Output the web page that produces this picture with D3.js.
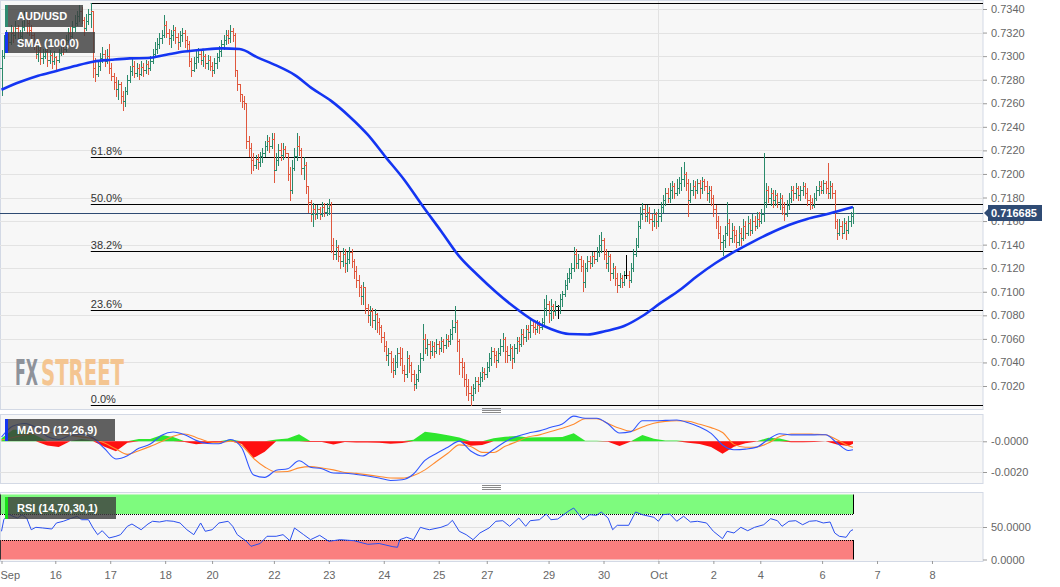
<!DOCTYPE html>
<html><head><meta charset="utf-8">
<script src="https://cdn.jsdelivr.net/npm/d3@7"></script>
<style>body{margin:0;background:#fff;}svg{display:block;font-family:"Liberation Sans",Arial,sans-serif;}</style>
</head><body><svg id="chart" width="1060" height="587"></svg>
<script>
// ---------- DATA (hourly AUD/USD bars) ----------
const firstOpen = .7290;
const closes = [
.7300,.7310,.7316,.7312,.7320,.7318,.7324,.7315,.7317,.7325,
.7332,.7328,.7322,.7318,.7310,.7302,.7305,.7298,.7300,.7304,
.7297,.7301,.7296,.7299,.7297,.7303,.7310,.7306,.7314,.7320,
.7317,.7325,.7328,.7334,.7338,.7331,.7324,.7330,.7336,.7338,
.7290,.7285,.7292,.7298,.7302,.7296,.7300,.7290,.7283,.7278,
.7272,.7276,.7266,.7262,.7270,.7280,.7287,.7292,.7286,.7290,
.7285,.7291,.7288,.7293,.7290,.7296,.7302,.7306,.7310,.7315,
.7318,.7326,.7320,.7315,.7318,.7322,.7316,.7312,.7318,.7320,
.7314,.7310,.7296,.7288,.7294,.7299,.7302,.7297,.7300,.7294,
.7297,.7292,.7288,.7294,.7299,.7304,.7310,.7314,.7318,.7315,
.7321,.7318,.7288,.7276,.7268,.7262,.7260,.7228,.7222,.7212,
.7208,.7213,.7210,.7215,.7218,.7224,.7228,.7224,.7230,.7203,
.7212,.7220,.7216,.7221,.7218,.7200,.7186,.7205,.7215,.7224,
.7220,.7205,.7208,.7190,.7176,.7166,.7170,.7166,.7170,.7166,
.7172,.7168,.7171,.7174,.7140,.7132,.7138,.7130,.7126,.7132,
.7124,.7128,.7134,.7126,.7118,.7110,.7104,.7096,.7104,.7086,
.7080,.7084,.7076,.7081,.7074,.7070,.7062,.7054,.7046,.7048,
.7040,.7034,.7040,.7048,.7044,.7034,.7030,.7044,.7038,.7030,
.7022,.7026,.7034,.7044,.7060,.7052,.7056,.7050,.7054,.7050,
.7056,.7052,.7058,.7055,.7060,.7058,.7064,.7070,.7074,.7058,
.7040,.7036,.7026,.7020,.7014,.7012,.7018,.7024,.7022,.7028,
.7032,.7030,.7036,.7044,.7050,.7046,.7042,.7048,.7054,.7060,
.7050,.7046,.7052,.7044,.7052,.7058,.7056,.7064,.7062,.7068,
.7066,.7072,.7070,.7068,.7072,.7070,.7074,.7086,.7090,.7082,
.7088,.7084,.7088,.7088,.7094,.7098,.7106,.7112,.7116,.7120,
.7132,.7124,.7128,.7122,.7108,.7120,.7126,.7124,.7130,.7128,
.7134,.7140,.7144,.7132,.7124,.7130,.7116,.7120,.7112,.7106,
.7112,.7108,.7114,.7114,.7110,.7120,.7132,.7140,.7156,.7166,
.7170,.7164,.7168,.7162,.7160,.7166,.7160,.7164,.7172,.7178,
.7184,.7180,.7186,.7190,.7184,.7188,.7192,.7196,.7200,.7192,
.7178,.7186,.7190,.7186,.7192,.7188,.7194,.7190,.7184,.7186,
.7180,.7170,.7160,.7150,.7142,.7144,.7150,.7158,.7146,.7152,
.7148,.7142,.7150,.7146,.7156,.7150,.7158,.7152,.7160,.7156,
.7162,.7160,.7166,.7176,.7186,.7180,.7184,.7178,.7182,.7176,
.7180,.7172,.7166,.7174,.7180,.7186,.7184,.7188,.7182,.7186,
.7190,.7184,.7178,.7176,.7174,.7180,.7186,.7190,.7186,.7192,
.7188,.7184,.7190,.7184,.7160,.7150,.7156,.7150,.7158,.7152,
.7160,.7164,.716685];
const highs = [
.7305,.7318,.7322,.7320,.7326,.7325,.7330,.7326,.7322,.7330,
.7338,.7336,.7333,.7326,.7320,.7312,.7310,.7308,.7306,.7309,
.7306,.7305,.7303,.7304,.7300,.7306,.7314,.7313,.7318,.7324,
.7325,.7330,.7335,.7338,.7343,.7342,.7333,.7336,.7340,.7345,
.7338,.7298,.7296,.7303,.7308,.7305,.7306,.7310,.7294,.7286,
.7282,.7280,.7278,.7270,.7274,.7284,.7292,.7298,.7296,.7294,
.7293,.7296,.7294,.7297,.7296,.7300,.7306,.7312,.7315,.7320,
.7322,.7335,.7330,.7323,.7322,.7326,.7325,.7320,.7321,.7324,
.7322,.7317,.7313,.7298,.7299,.7304,.7307,.7305,.7304,.7302,
.7301,.7300,.7295,.7298,.7303,.7309,.7314,.7318,.7322,.7322,
.7326,.7324,.7320,.7287,.7276,.7268,.7266,.7258,.7232,.7226,
.7218,.7216,.7217,.7219,.7222,.7228,.7233,.7231,.7235,.7235,
.7218,.7225,.7226,.7226,.7224,.7215,.7206,.7212,.7222,.7235,
.7232,.7222,.7214,.7210,.7190,.7178,.7175,.7174,.7174,.7172,
.7176,.7175,.7175,.7179,.7176,.7146,.7144,.7140,.7134,.7137,
.7136,.7134,.7138,.7136,.7128,.7122,.7114,.7106,.7108,.7104,
.7090,.7088,.7086,.7085,.7082,.7078,.7072,.7066,.7058,.7052,
.7050,.7044,.7046,.7052,.7053,.7052,.7038,.7050,.7046,.7040,
.7034,.7030,.7038,.7048,.7073,.7064,.7060,.7058,.7058,.7057,
.7060,.7058,.7062,.7060,.7064,.7063,.7068,.7076,.7088,.7076,
.7060,.7044,.7040,.7030,.7026,.7020,.7022,.7028,.7028,.7032,
.7036,.7035,.7040,.7048,.7053,.7052,.7050,.7052,.7060,.7065,
.7062,.7054,.7056,.7054,.7056,.7062,.7062,.7068,.7068,.7072,
.7072,.7076,.7076,.7074,.7076,.7075,.7078,.7094,.7097,.7092,
.7094,.7090,.7092,.7089,.7098,.7101,.7110,.7116,.7120,.7124,
.7138,.7136,.7132,.7130,.7127,.7124,.7130,.7130,.7134,.7134,
.7138,.7148,.7151,.7146,.7136,.7134,.7132,.7124,.7122,.7116,
.7116,.7114,.7118,.7131,.7118,.7124,.7136,.7146,.7160,.7172,
.7175,.7174,.7174,.7172,.7166,.7170,.7168,.7170,.7176,.7182,
.7188,.7188,.7192,.7194,.7192,.7196,.7197,.7206,.7210,.7202,
.7196,.7192,.7195,.7194,.7196,.7195,.7197,.7196,.7194,.7190,
.7190,.7182,.7174,.7164,.7156,.7148,.7156,.7176,.7162,.7158,
.7156,.7152,.7156,.7154,.7162,.7160,.7164,.7162,.7166,.7164,
.7168,.7168,.7170,.7218,.7192,.7190,.7188,.7186,.7186,.7184,
.7184,.7182,.7176,.7178,.7184,.7190,.7190,.7192,.7190,.7190,
.7193,.7192,.7188,.7182,.7180,.7184,.7190,.7194,.7194,.7195,
.7194,.7209,.7194,.7192,.7186,.7162,.7162,.7160,.7163,.7160,
.7164,.7168,.7172];
const lows = [
.7267,.7298,.7306,.7305,.7310,.7312,.7315,.7312,.7309,.7314,
.7322,.7320,.7318,.7312,.7306,.7298,.7296,.7293,.7294,.7298,
.7292,.7294,.7290,.7293,.7287,.7295,.7301,.7302,.7304,.7312,
.7314,.7316,.7321,.7326,.7330,.7328,.7318,.7322,.7327,.7325,
.7282,.7279,.7283,.7288,.7295,.7292,.7294,.7286,.7280,.7272,
.7266,.7264,.7260,.7254,.7258,.7268,.7278,.7284,.7282,.7283,
.7281,.7284,.7283,.7286,.7285,.7288,.7294,.7300,.7303,.7307,
.7311,.7316,.7316,.7310,.7308,.7314,.7311,.7306,.7309,.7313,
.7308,.7305,.7292,.7283,.7287,.7290,.7295,.7293,.7292,.7290,
.7289,.7288,.7283,.7286,.7290,.7296,.7300,.7306,.7310,.7311,
.7312,.7313,.7283,.7271,.7262,.7257,.7255,.7222,.7215,.7201,
.7203,.7205,.7204,.7207,.7210,.7215,.7220,.7219,.7222,.7193,
.7206,.7208,.7212,.7213,.7214,.7195,.7178,.7184,.7203,.7212,
.7216,.7200,.7196,.7184,.7168,.7160,.7156,.7162,.7163,.7162,
.7164,.7164,.7165,.7166,.7134,.7128,.7128,.7126,.7120,.7122,
.7117,.7118,.7124,.7121,.7112,.7104,.7096,.7090,.7090,.7082,
.7074,.7072,.7070,.7068,.7066,.7064,.7057,.7050,.7042,.7038,
.7032,.7028,.7030,.7036,.7038,.7031,.7024,.7028,.7032,.7024,
.7017,.7018,.7024,.7032,.7042,.7048,.7046,.7044,.7046,.7045,
.7048,.7047,.7050,.7049,.7052,.7054,.7056,.7060,.7066,.7050,
.7030,.7028,.7020,.7012,.7008,.7004,.7008,.7014,.7016,.7020,
.7024,.7026,.7028,.7033,.7038,.7040,.7036,.7040,.7046,.7050,
.7040,.7040,.7042,.7035,.7040,.7048,.7050,.7054,.7056,.7058,
.7060,.7062,.7066,.7064,.7066,.7065,.7068,.7072,.7080,.7074,
.7076,.7078,.7080,.7078,.7082,.7088,.7096,.7102,.7108,.7112,
.7118,.7120,.7120,.7118,.7101,.7104,.7118,.7120,.7122,.7124,
.7126,.7130,.7134,.7128,.7120,.7118,.7110,.7112,.7106,.7100,
.7104,.7104,.7106,.7112,.7104,.7108,.7118,.7130,.7138,.7154,
.7162,.7160,.7160,.7158,.7152,.7156,.7154,.7156,.7160,.7168,
.7174,.7176,.7176,.7180,.7180,.7182,.7184,.7186,.7190,.7186,
.7164,.7176,.7182,.7180,.7184,.7180,.7184,.7186,.7178,.7176,
.7174,.7164,.7154,.7146,.7136,.7131,.7138,.7148,.7140,.7142,
.7142,.7138,.7140,.7140,.7144,.7146,.7148,.7148,.7150,.7152,
.7154,.7156,.7158,.7160,.7172,.7176,.7174,.7172,.7174,.7172,
.7170,.7166,.7161,.7164,.7170,.7176,.7178,.7180,.7178,.7178,
.7182,.7180,.7174,.7170,.7171,.7172,.7178,.7182,.7184,.7184,
.7184,.7180,.7180,.7180,.7154,.7145,.7148,.7146,.7150,.7145,
.7150,.7156,.7158];

const smaBars = [0,8,16,24,32,40,48,56,64,72,80,88,96,104,112,120,128,136,144,152,160,168,176,184,192,200,208,216,224,232,240,248,256,264,272,280,288,296,304,312,320,328,336,344,352,360,368,372];
const smaValues = [.72715,.72780,.72834,.72874,.72916,.72953,.72969,.72981,.72984,.73012,.73039,.73055,.73066,.73061,.72987,.72921,.72841,.72722,.72620,.72488,.72333,.72139,.71949,.71728,.71516,.71300,.71142,.70998,.70870,.70760,.70684,.70641,.70637,.70667,.70709,.70794,.70905,.71010,.71134,.71244,.71338,.71422,.71499,.71567,.71618,.71656,.71698,.71720];

const macdBars = [0,5,10,15,20,25,30,35,40,45,50,55,60,65,70,75,80,85,90,95,100,105,110,115,120,125,130,135,140,145,150,155,160,165,170,175,180,185,190,195,200,205,210,215,220,225,230,235,240,245,250,255,260,265,270,275,280,285,290,295,300,305,310,315,320,325,330,335,340,345,350,355,360,365,370,372];
const macdLine = [0.00028,0.00100,0.00116,0.00090,0.00032,0.00012,0.00038,0.00044,0.00021,-0.00047,-0.00115,-0.00094,-0.00046,-0.00018,0.00040,0.00061,0.00043,0.00006,-0.00014,-0.00016,0.00012,-0.00044,-0.00218,-0.00235,-0.00189,-0.00179,-0.00127,-0.00169,-0.00179,-0.00207,-0.00208,-0.00216,-0.00226,-0.00239,-0.00255,-0.00251,-0.00213,-0.00124,-0.00079,-0.00039,0.00001,-0.00063,-0.00096,-0.00053,-0.00003,0.00031,0.00053,0.00068,0.00091,0.00113,0.00164,0.00150,0.00150,0.00113,0.00054,0.00063,0.00134,0.00134,0.00136,0.00139,0.00121,0.00093,0.00052,-0.00024,-0.00055,-0.00051,-0.00038,0.00012,0.00049,0.00042,0.00042,0.00042,0.00043,-0.00011,-0.00060,-0.00055];
const signalLine = [0.00008,0.00025,0.00041,0.00051,0.00059,0.00049,0.00038,0.00029,0.00017,-0.00011,-0.00050,-0.00085,-0.00061,-0.00033,-0.00001,0.00033,0.00048,0.00025,-0.00001,-0.00010,0.00001,-0.00027,-0.00109,-0.00167,-0.00200,-0.00197,-0.00173,-0.00165,-0.00174,-0.00186,-0.00203,-0.00209,-0.00219,-0.00229,-0.00239,-0.00240,-0.00223,-0.00186,-0.00132,-0.00078,-0.00023,-0.00034,-0.00072,-0.00073,-0.00033,-0.00003,0.00028,0.00042,0.00064,0.00085,0.00111,0.00147,0.00147,0.00116,0.00085,0.00065,0.00093,0.00117,0.00130,0.00134,0.00131,0.00111,0.00089,0.00057,-0.00020,-0.00039,-0.00037,-0.00011,0.00031,0.00048,0.00048,0.00046,0.00043,0.00010,-0.00029,-0.00039];

const rsiBars = [0,1,3,5,7,9,11,13,15,18,22,24,27,30,33,35,38,40,42,44,47,50,52,55,57,61,64,66,69,72,75,78,81,84,87,89,92,95,99,101,103,107,109,113,116,120,123,126,128,132,135,139,143,148,154,160,165,171,173,174,177,180,183,185,187,192,195,197,200,203,206,209,213,216,219,222,226,229,231,235,238,240,243,248,250,254,257,260,262,265,267,269,274,277,280,285,287,289,292,295,298,301,304,308,311,315,317,320,323,326,329,333,336,339,341,344,347,350,353,356,359,362,364,366,369,371,372];
const rsiValues = [43.4,61.2,70,66.5,63.8,68.9,63.8,45.8,49.5,48.5,46.9,56.2,58.8,62.8,66.5,61.2,61.2,48.5,38.2,44.3,33.1,35.7,38.2,51.1,54.6,45.8,54.6,58.8,57.7,59.7,58.8,56.2,45.8,38.2,56.2,43.4,45.8,56.2,58.8,51.1,38.2,28,20.3,24.6,35.7,35.7,38.2,28.9,48.5,38.2,30.5,37.2,28,30.5,28.9,23.4,24.6,19.7,18.8,30.5,34.2,30.5,49.5,47.4,45.8,49.5,53.5,60.3,43.4,38.2,30.5,40.8,48.5,58.8,59.7,51.1,63.8,51.1,59.7,61.2,70,61.2,62.3,75.1,79.2,61.2,68.9,68,73.1,63.8,45.8,52.6,52.6,73.1,68.9,64.9,58.8,68.9,70,58.8,66.5,57.7,58.8,56.2,43.4,32,43.4,40.8,49.5,44.3,49.5,53.5,62.8,59.7,51.1,58.8,59.7,53.5,58.8,59.7,56.2,57.7,40.8,35.7,34.2,44.3,45.8];

const fibRatios = [0, 0.236, 0.382, 0.5, 0.618, 1];
const priceTicks = [0.7020,0.7040,0.7060,0.7080,0.7100,0.7120,0.7140,0.7160,0.7180,0.7200,0.7220,0.7240,0.7260,0.7280,0.7300,0.7320,0.7340];
const macdTicks = [0, -0.0020];
const macdTickLabels = ["-0.0000", "-0.0020"];
const rsiTicks = [0, 50];
const rsiTickLabels = ["0.0000", "50.0000"];
const rsiUpper = 70, rsiLower = 30;
const dayLabels = ["Sep","16","17","18","20","22","23","24","25","27","29","30","Oct","2","4","6","7","8"];
const dayBars = [0,23.5,47.5,71.5,92,119,143,167,191,212,239,263,287,311,331.5,358.5,382.5,406.5];
const symbolName = "AUD/USD", smaName = "SMA (100,0)", macdName = "MACD (12,26,9)", rsiName = "RSI (14,70,30,1)";
const brandParts = ["FX", "STREET"];

// ---------- LAYOUT ----------
const plotR = 983;
const P = {main:[0,409], macd:[414,483], rsi:[492,561]};
const UP = "#2b8a6b", DOWN = "#e0583e";
const svg = d3.select("#chart");
const x = d3.scaleLinear().domain([0, closes.length - 1]).range([1.5, 853]);
const yP = d3.scaleLinear().domain([0.7020, 0.7340]).range([386, 9]);
const yM = d3.scaleLinear().domain([0, -0.0020]).range([441.3, 472]);
const yR = d3.scaleLinear().domain([0, 100]).range([559.5, 494.5]);
const px = v => Math.round(v) + 0.5;

const defs = svg.append("defs");
Object.entries(P).forEach(([k,[t,b]]) => {
  defs.append("clipPath").attr("id","clip-"+k).append("rect").attr("x",0).attr("y",t).attr("width",plotR).attr("height",b-t);
  svg.append("rect").attr("x",0.5).attr("y",t+0.5).attr("width",plotR-0.5).attr("height",b-t)
    .attr("fill","#f7f7f7").attr("stroke","#d3d9e5");
});

// month boundary vertical grid
const monthIdx = dayLabels.map((d,i)=>i).filter(i => i>0 && isNaN(+dayLabels[i]));
Object.values(P).forEach(([t,b]) => monthIdx.forEach(i =>
  svg.append("line").attr("x1",px(x(dayBars[i]))).attr("x2",px(x(dayBars[i]))).attr("y1",t+1).attr("y2",b).attr("stroke","#e2e2e2")));

// ---------- MAIN PANEL ----------
const gMain = svg.append("g").attr("clip-path","url(#clip-main)");
gMain.selectAll("line.grid").data(priceTicks).join("line").attr("class","grid")
  .attr("x1",0).attr("x2",plotR).attr("y1",d=>px(yP(d))).attr("y2",d=>px(yP(d))).attr("stroke","#e3e3e3");

// watermark
const wm = gMain.append("g").attr("font-family","'Liberation Sans Narrow','DejaVu Sans Condensed',sans-serif").attr("font-weight","bold").attr("font-size",36);
wm.append("text").attr("x",15).attr("y",385).attr("fill","#8e929a").attr("textLength",23).attr("lengthAdjust","spacingAndGlyphs").text(brandParts[0]);
wm.append("text").attr("x",41).attr("y",385).attr("fill","#f4c591").attr("textLength",83).attr("lengthAdjust","spacingAndGlyphs").text(brandParts[1]);

// fibonacci retracement
const hiIdx = d3.maxIndex(highs), loIdx = d3.minIndex(lows);
const fHi = highs[hiIdx], fLo = lows[loIdx];
const fibX = x(Math.min(hiIdx, loIdx));
fibRatios.forEach(r => {
  const yy = px(yP(fLo + r*(fHi - fLo)));
  gMain.append("line").attr("x1",fibX).attr("x2",plotR).attr("y1",yy).attr("y2",yy).attr("stroke","#000").attr("stroke-width",1.2);
  if (yy > 14) gMain.append("text").attr("x",fibX).attr("y",yy-2.5).attr("font-size",11).attr("fill","#333").text((r*100).toFixed(1)+"%");
});

// current price line
const last = closes[closes.length-1];
gMain.append("line").attr("x1",0).attr("x2",plotR).attr("y1",px(yP(last))).attr("y2",px(yP(last))).attr("stroke","#2d4a72");

// OHLC bars
const bars = closes.map((c,i)=>({i, o: i ? closes[i-1] : firstOpen, h: highs[i], l: lows[i], c}));
gMain.append("g").selectAll("path").data(bars).join("path")
  .attr("fill","none").attr("stroke-width",1)
  .attr("stroke", d => d.c > d.o ? UP : d.c < d.o ? DOWN : "#000")
  .attr("d", d => {
    const xx = px(x(d.i));
    const top = Math.round(yP(Math.max(d.h,d.o,d.c))), bot = Math.round(yP(Math.min(d.l,d.o,d.c)))+1;
    return `M${xx},${top}V${bot}M${xx-2.5},${px(yP(d.o))}H${xx}M${xx},${px(yP(d.c))}H${xx+2.5}`;
  });

// SMA
gMain.append("path").datum(smaBars.map((b,i)=>[b, smaValues[i]]))
  .attr("fill","none").attr("stroke","#1435f2").attr("stroke-width",2.6)
  .attr("d", d3.line().x(d=>x(d[0])).y(d=>yP(d[1])).curve(d3.curveMonotoneX));

// right axis (price)
svg.append("g").attr("transform",`translate(${plotR},0)`)
  .call(d3.axisRight(yP).tickValues(priceTicks).tickSize(4).tickPadding(4).tickFormat(d3.format(".4f")));

// ---------- MACD PANEL ----------
const gM = svg.append("g").attr("clip-path","url(#clip-macd)");
gM.selectAll("line.grid").data(macdTicks).join("line").attr("class","grid")
  .attr("x1",0).attr("x2",plotR).attr("y1",d=>px(yM(d))).attr("y2",d=>px(yM(d))).attr("stroke","#e0e0e0");
const hist = macdBars.map((b,i)=>({b, h: macdLine[i]-signalLine[i]}));
gM.append("path").datum(hist).attr("fill","#2ee62e")
  .attr("d", d3.area().x(d=>x(d.b)).y0(yM(0)).y1(d=>yM(Math.max(0,d.h))));
gM.append("path").datum(hist).attr("fill","#ff1010")
  .attr("d", d3.area().x(d=>x(d.b)).y0(yM(0)).y1(d=>yM(Math.min(0,d.h))));
const mline = d3.line().x(d=>x(d[0])).y(d=>yM(d[1])).curve(d3.curveMonotoneX);
gM.append("path").datum(macdBars.map((b,i)=>[b, signalLine[i]])).attr("fill","none").attr("stroke","#ff8a2e").attr("stroke-width",1.1).attr("d",mline);
gM.append("path").datum(macdBars.map((b,i)=>[b, macdLine[i]])).attr("fill","none").attr("stroke","#2f55ff").attr("stroke-width",1.1).attr("d",mline);
svg.append("g").attr("transform",`translate(${plotR},0)`)
  .call(d3.axisRight(yM).tickValues(macdTicks).tickSize(4).tickPadding(4).tickFormat((d,i)=>macdTickLabels[i]));

// ---------- RSI PANEL ----------
const gR = svg.append("g").attr("clip-path","url(#clip-rsi)");
const xEnd = x(closes.length-1);
gR.append("line").attr("x1",0).attr("x2",plotR).attr("y1",px(yR(50))).attr("y2",px(yR(50))).attr("stroke","#e0e0e0");
gR.append("rect").attr("x",0).attr("y",yR(100)).attr("width",xEnd).attr("height",yR(rsiUpper)-yR(100)).attr("fill","#7efb7e");
gR.append("rect").attr("x",0).attr("y",yR(rsiLower)).attr("width",xEnd).attr("height",yR(0)-yR(rsiLower)).attr("fill","#fa7f7f");
[rsiUpper, rsiLower].forEach(v => gR.append("line").attr("x1",0).attr("x2",xEnd).attr("y1",px(yR(v))).attr("y2",px(yR(v))).attr("stroke","#000").attr("stroke-dasharray","1,1"));
[[100,rsiUpper],[rsiLower,0]].forEach(([a,b]) => {
  gR.append("line").attr("x1",px(xEnd)).attr("x2",px(xEnd)).attr("y1",yR(a)).attr("y2",yR(b)).attr("stroke","#000");
  gR.append("line").attr("x1",0.5).attr("x2",0.5).attr("y1",yR(a)).attr("y2",yR(b)).attr("stroke","#333");
});
gR.append("path").datum(rsiBars.map((b,i)=>[b, rsiValues[i]])).attr("fill","none").attr("stroke","#2a4ff0").attr("stroke-width",1)
  .attr("d", d3.line().x(d=>x(d[0])).y(d=>yR(d[1])));
svg.append("g").attr("transform",`translate(${plotR},0)`)
  .call(d3.axisRight(yR).tickValues(rsiTicks).tickSize(4).tickPadding(4).tickFormat((d,i)=>rsiTickLabels[i]));

// ---------- X AXIS ----------
const axX = svg.append("g").attr("transform",`translate(0,${P.rsi[1]})`)
  .call(d3.axisBottom(x).tickValues(dayBars).tickSize(3).tickPadding(7).tickFormat((d,i)=>dayLabels[i]));
axX.selectAll(".tick").filter((d,i)=>i===0).select("text").attr("text-anchor","start").attr("x",-x(0));

// axis styling
svg.selectAll(".domain").remove();
svg.selectAll(".tick line").attr("stroke","#9a9a9a");
svg.selectAll(".tick text").attr("fill","#666").attr("font-size",11).attr("font-family","'Liberation Sans',Arial,sans-serif");

// current price tag (drawn above the axis labels, as in the reference)
const ly = yP(last);
const tag = svg.append("g");
tag.append("path").attr("d",`M984,${ly}L988,${ly-4}L988,${ly+4}Z`).attr("fill","#2f4b74");
tag.append("rect").attr("x",988).attr("y",ly-8).attr("width",54).attr("height",16).attr("fill","#2f4b74");
tag.append("text").attr("x",991).attr("y",ly+4).attr("fill","#fff").attr("font-size",11).attr("font-weight","bold").text(d3.format(".6f")(last));

// panel resize handles
[[408.5,410.5,412.5],[485.5,487.5,489.5]].forEach(ys => ys.forEach(yy =>
  svg.append("line").attr("x1",482).attr("x2",501).attr("y1",yy).attr("y2",yy).attr("stroke","#8a8a8a")));

// ---------- LEGEND TAGS ----------
function legend(x0, y0, w, h, strip, label) {
  const g = svg.append("g");
  g.append("rect").attr("x",x0).attr("y",y0).attr("width",w).attr("height",h).attr("fill","rgba(62,62,62,0.82)");
  g.append("rect").attr("x",x0).attr("y",y0).attr("width",3).attr("height",h).attr("fill",strip);
  g.append("text").attr("x",x0+12).attr("y",y0+h/2+4).attr("fill","#fff").attr("font-size",11).attr("font-weight","bold").text(label);
}
legend(5,5,78,22,"#2f8a70",symbolName);
legend(5,32,90,21,"#1435f2",smaName);
legend(5,419,110,22,"#1435f2",macdName);
legend(5,497,111,22,"#19e019",rsiName);
</script></body></html>
